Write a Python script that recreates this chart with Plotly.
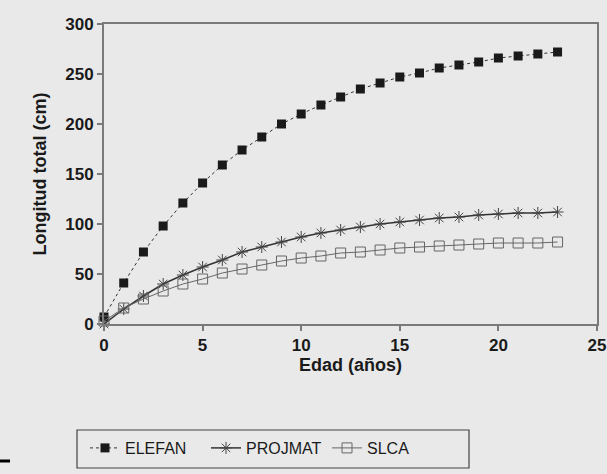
import plotly.graph_objects as go

edad = list(range(0, 24))
elefan = [7, 41, 72, 98, 121, 141, 159, 174, 187, 200, 210, 219, 227, 235, 241, 247, 251, 256, 259, 262, 266, 268, 270, 272]
projmat = [0, 15, 28, 40, 49, 57, 64, 72, 77, 82, 87, 91, 94, 97, 100, 102, 104, 106, 107, 109, 110, 111, 111, 112]
slca = [3, 16, 25, 33, 40, 45, 51, 55, 59, 63, 66, 68, 71, 72, 74, 76, 77, 78, 79, 80, 81, 81, 81, 82]

x_ticks = [0, 5, 10, 15, 20, 25]
y_ticks = [0, 50, 100, 150, 200, 250, 300]

bg = "#e9e9e9"
axis_col = "#7a7a7a"
FONT = "Liberation Sans, Arial, sans-serif"

fig = go.Figure()
fig.add_trace(go.Scatter(
    x=edad, y=elefan, name="ELEFAN", mode="lines+markers",
    line=dict(color="#333333", width=1, dash="dot"),
    marker=dict(symbol="square", size=9, color="#1a1a1a", line=dict(color="#1a1a1a", width=0)),
    cliponaxis=False,
))
fig.add_trace(go.Scatter(
    x=edad, y=projmat, name="PROJMAT", mode="lines+markers",
    line=dict(color="#333333", width=1.5),
    marker=dict(symbol="asterisk-open", size=10, color="#444444", line=dict(color="#444444", width=1)),
    cliponaxis=False,
))
fig.add_trace(go.Scatter(
    x=edad, y=slca, name="SLCA", mode="lines+markers",
    line=dict(color="#666666", width=1),
    marker=dict(symbol="square-open", size=10, color="#666666", line=dict(color="#666666", width=1)),
    cliponaxis=False,
))

fig.update_layout(
    width=607, height=474,
    margin=dict(l=104, r=10, t=24, b=150, autoexpand=False),
    paper_bgcolor=bg, plot_bgcolor=bg,
    font=dict(family=FONT, color="#1a1a1a"),
    showlegend=True,
    legend=dict(
        orientation="h", xref="container", yref="container",
        x=85/607, xanchor="left", y=1 - 431/474, yanchor="top",
        borderwidth=0, bgcolor="rgba(0,0,0,0)",
        font=dict(size=16, family=FONT, color="#1a1a1a"),
        tracegroupgap=0, entrywidth=76, entrywidthmode="pixels",
    ),
    xaxis=dict(
        range=[0, 25], tickvals=x_ticks, ticktext=[str(v) for v in x_ticks],
        showgrid=False, zeroline=False, automargin=False,
        showline=True, linecolor=axis_col, linewidth=2, mirror=True,
        ticks="outside", ticklen=5, tickcolor=axis_col, tickwidth=2,
        tickfont=dict(size=17, family=FONT, weight="bold"),
        title=dict(text="<b>Edad (años)</b>", font=dict(size=18), standoff=2),
    ),
    yaxis=dict(
        range=[0, 300], tickvals=y_ticks, ticktext=[str(v) for v in y_ticks],
        showgrid=False, zeroline=False, automargin=False,
        showline=True, linecolor=axis_col, linewidth=2, mirror=True,
        ticks="outside", ticklen=5, tickcolor=axis_col, tickwidth=2,
        tickfont=dict(size=17, family=FONT, weight="bold"),
        title=dict(text="<b>Longitud total (cm)</b>", font=dict(size=18), standoff=14),
    ),
)

# legend frame
fig.add_shape(type="rect", xref="paper", yref="paper",
              x0=(77 - 104) / 493, x1=(469 - 104) / 493,
              y0=(324 - 430) / 300, y1=(324 - 468) / 300,
              line=dict(color="#444444", width=1.2), fillcolor="rgba(0,0,0,0)")
# small mark at bottom-left
fig.add_shape(type="line", xref="paper", yref="paper",
              x0=-104/493, x1=-94/493, y0=-137/300, y1=-137/300,
              line=dict(color="#000000", width=3))

fig.write_html("out.html", config={"displayModeBar": False},
               post_script="document.body.style.margin='0';document.body.style.background='%s';" % bg)
